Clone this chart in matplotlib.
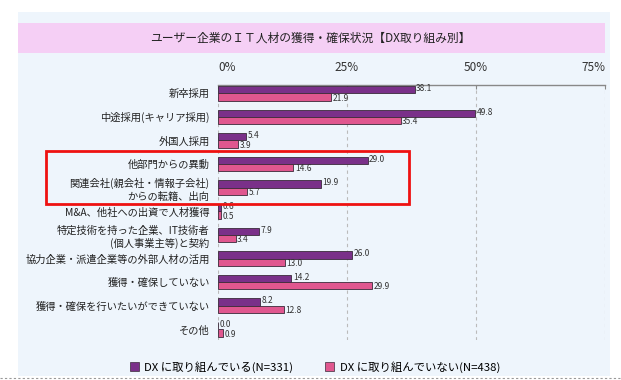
import numpy as np
import matplotlib.pyplot as plt
from matplotlib.patches import Rectangle
from matplotlib.lines import Line2D

plt.rcParams['font.family'] = ['Noto Sans CJK JP', 'DejaVu Sans']

TITLE = "ユーザー企業のＩＴ人材の獲得・確保状況【DX取り組み別】"
categories = [
    "新卒採用",
    "中途採用(キャリア採用)",
    "外国人採用",
    "他部門からの異動",
    "関連会社(親会社・情報子会社)\nからの転籍、出向",
    "M&A、他社への出資で人材獲得",
    "特定技術を持った企業、IT技術者\n(個人事業主等)と契約",
    "協力企業・派遣企業等の外部人材の活用",
    "獲得・確保していない",
    "獲得・確保を行いたいができていない",
    "その他",
]
dx_yes = [38.1, 49.8, 5.4, 29.0, 19.9, 0.6, 7.9, 26.0, 14.2, 8.2, 0.0]
dx_no = [21.9, 35.4, 3.9, 14.6, 5.7, 0.5, 3.4, 13.0, 29.9, 12.8, 0.9]
series_names = ["DX に取り組んでいる(N=331)", "DX に取り組んでいない(N=438)"]
xticks = [0, 25, 50, 75]

c_yes = "#7a3089"
c_no = "#e0578f"
panel = "#eef5fc"

fig = plt.figure(figsize=(6.21, 3.80), dpi=100)
fig.patch.set_facecolor("white")

# light blue panel and pink title band
fig.patches.append(Rectangle((18 / 621, 1 - 376 / 380), 592 / 621, 364 / 380,
                             transform=fig.transFigure, facecolor=panel, edgecolor="none", zorder=-2))
fig.patches.append(Rectangle((18 / 621, 1 - 53 / 380), 587 / 621, 30 / 380,
                             transform=fig.transFigure, facecolor="#f5cff5", edgecolor="none", zorder=-1))
fig.text(0.5, 1 - 38 / 380, TITLE, ha="center", va="center", fontsize=8.5, color="#222222")

ax = fig.add_axes([218 / 621, 1 - 340 / 380, 387 / 621, 255 / 380])
ax.set_facecolor("none")
ax.set_zorder(2)

y = np.arange(len(categories))
h = 0.31
ax.barh(y - h / 2, dx_yes, height=h, color=c_yes, edgecolor="#3a2a3a", linewidth=0.6, zorder=3)
ax.barh(y + h / 2, dx_no, height=h, color=c_no, edgecolor="#3a2a3a", linewidth=0.6, zorder=3)

for i in range(len(categories)):
    ax.text(dx_yes[i] + 0.3, y[i] - h / 2 - 0.05, "%.1f" % dx_yes[i], fontsize=6,
            va="center", ha="left", color="#333333", zorder=4)
    ax.text(dx_no[i] + 0.3, y[i] + h / 2 + 0.05, "%.1f" % dx_no[i], fontsize=6,
            va="center", ha="left", color="#333333", zorder=4)

ax.set_xlim(0, 75)
ax.set_ylim(10.45, -0.35)
ax.set_yticks(y)
ax.set_yticklabels(categories, fontsize=7.4, color="#222222", linespacing=1.3)
ax.tick_params(axis="y", length=0, pad=6)
ax.xaxis.tick_top()
ax.set_xticks(xticks)
ax.set_xticklabels(["%d%%" % t for t in xticks], fontsize=8.5, color="#333333")
ax.tick_params(axis="x", length=3, color="#888888", direction="in", pad=8)
ax.get_xticklabels()[-1].set_ha("right")
ax.get_xticklabels()[0].set_ha("left")

for s in ["left", "right", "bottom"]:
    ax.spines[s].set_visible(False)
ax.spines["top"].set_color("#888888")
ax.spines["top"].set_linewidth(1.0)

for t in xticks:
    ax.axvline(t, color="#bbbbbb", linestyle=(0, (3, 3)), linewidth=0.8, zorder=1)

# red highlight box
fig.patches.append(Rectangle((46 / 621, 1 - 204 / 380), 363 / 621, 53 / 380,
                             transform=fig.transFigure, facecolor="none", edgecolor="#ee1111",
                             linewidth=2.0, zorder=5))

handles = [Rectangle((0, 0), 1, 1, facecolor=c_yes, edgecolor="#3a2a3a", linewidth=0.5),
           Rectangle((0, 0), 1, 1, facecolor=c_no, edgecolor="#3a2a3a", linewidth=0.5)]
fig.legend(handles, series_names, loc="center", bbox_to_anchor=(315 / 621, 1 - 367 / 380), ncol=2,
           frameon=False, fontsize=8.2, handlelength=0.8, handleheight=0.8, columnspacing=2.8,
           handletextpad=0.5)

fig.lines.append(Line2D([0, 1], [1 - 378 / 380] * 2, transform=fig.transFigure,
                        color="#999999", linestyle=(0, (2, 2)), linewidth=0.8))

fig.savefig("out.png", dpi=100, facecolor="white")
